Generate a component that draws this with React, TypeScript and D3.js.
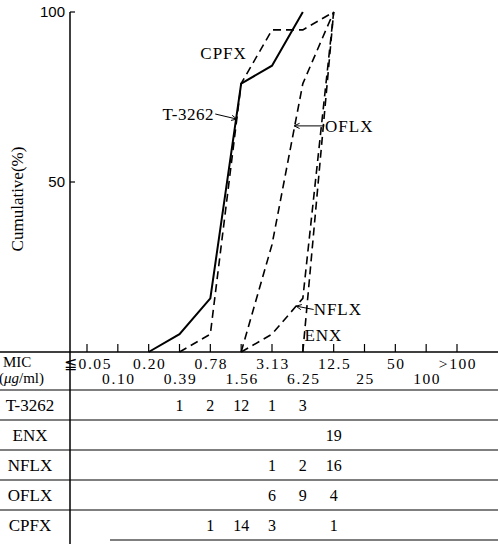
import React from "react";
import * as d3 from "d3";

// MIC categories (µg/ml)
const categories = ["≦0.05", "0.10", "0.20", "0.39", "0.78", "1.56", "3.13", "6.25", "12.5", "25", "50", "100", ">100"];

// Number of strains inhibited at each MIC, per drug
const drugs = ["T-3262", "ENX", "NFLX", "OFLX", "CPFX"];
const t3262Counts = [0, 0, 0, 1, 2, 12, 1, 3, 0, 0, 0, 0, 0];
const enxCounts = [0, 0, 0, 0, 0, 0, 0, 0, 19, 0, 0, 0, 0];
const nflxCounts = [0, 0, 0, 0, 0, 0, 1, 2, 16, 0, 0, 0, 0];
const oflxCounts = [0, 0, 0, 0, 0, 0, 6, 9, 4, 0, 0, 0, 0];
const cpfxCounts = [0, 0, 0, 0, 1, 14, 3, 0, 1, 0, 0, 0, 0];

const yTicks = [50, 100];

const W = 498;
const H = 544;
const axisX = 70;
const baseY = 352;
const topY = 12;
const serif = "'Liberation Serif', 'DejaVu Serif', 'Times New Roman', serif";

const countsByDrug: Record<string, number[]> = {
  "T-3262": t3262Counts,
  ENX: enxCounts,
  NFLX: nflxCounts,
  OFLX: oflxCounts,
  CPFX: cpfxCounts,
};

const x = d3.scaleLinear().domain([0, categories.length - 1]).range([87, 457]);
const y = d3.scaleLinear().domain([0, 100]).range([baseY, topY]);

// Cumulative percentage curve, starting at 0 one step before the first strain
function cumulative(counts: number[]): [number, number][] {
  const total = d3.sum(counts);
  const first = counts.findIndex((c) => c > 0);
  let last = counts.length - 1;
  while (last > 0 && counts[last] === 0) last--;
  const pts: [number, number][] = [];
  let acc = 0;
  for (let i = Math.max(0, first - 1); i <= last; i++) {
    acc += counts[i];
    pts.push([i, (acc / total) * 100]);
  }
  return pts;
}

const line = d3
  .line<[number, number]>()
  .x((d) => x(d[0]))
  .y((d) => y(d[1]));

// Row geometry of the counts table
const headerBottom = 390;
const rowH = 30;

const txt = (size: number, spacing = 0): React.CSSProperties => ({
  fontFamily: serif,
  fontSize: size,
  letterSpacing: spacing,
});

function Arrow({ x1, y1, x2, y2 }: { x1: number; y1: number; x2: number; y2: number }) {
  const a = Math.atan2(y2 - y1, x2 - x1);
  const L = 6;
  const s = 0.45;
  const p1 = [x2 - L * Math.cos(a - s), y2 - L * Math.sin(a - s)];
  const p2 = [x2 - L * Math.cos(a + s), y2 - L * Math.sin(a + s)];
  return (
    <g stroke="#000" strokeWidth={1} fill="none">
      <line x1={x1} y1={y1} x2={x2} y2={y2} />
      <path d={`M${p1[0]},${p1[1]}L${x2},${y2}L${p2[0]},${p2[1]}`} />
    </g>
  );
}

export default function App() {
  const curves = drugs.map((d) => ({ name: d, pts: cumulative(countsByDrug[d]) }));

  return (
    <svg
      width={W}
      height={H}
      viewBox={`0 0 ${W} ${H}`}
      style={{ position: "absolute", left: 0, top: 0, background: "#fff" }}
    >
      <rect width={W} height={H} fill="#fff" />

      {/* y axis */}
      <line x1={axisX} y1={topY} x2={axisX} y2={H} stroke="#000" strokeWidth={1.5} />
      {yTicks.map((t) => (
        <g key={t}>
          <line x1={axisX} x2={axisX + 5} y1={y(t)} y2={y(t)} stroke="#000" strokeWidth={1.2} />
          <text
            x={axisX - 5}
            y={y(t)}
            dy="0.35em"
            textAnchor="end"
            style={{ fontFamily: "'Liberation Sans Narrow', 'Liberation Sans', sans-serif", fontSize: 15 }}
          >
            {t}
          </text>
        </g>
      ))}
      <text transform={`translate(23,${y(45)}) rotate(-90)`} textAnchor="middle" style={txt(17)}>
        Cumulative(%)
      </text>

      {/* x axis and ticks */}
      <line x1={0} x2={W} y1={baseY} y2={baseY} stroke="#000" strokeWidth={1.5} />
      {categories.map((c, i) => (
        <line key={c} x1={x(i)} x2={x(i)} y1={baseY} y2={baseY - 8} stroke="#000" strokeWidth={1.2} />
      ))}
      {categories.map((c, i) => (
        <text key={c} x={x(i) + 1} y={i % 2 === 0 ? 369 : 384} textAnchor="middle" style={txt(15.5, 1.6)}>
          {c}
        </text>
      ))}
      <text x={3} y={367} style={txt(15)}>
        MIC
      </text>
      <text x={-1} y={383} style={txt(15)}>
        (<tspan fontStyle="italic">μg</tspan>/ml)
      </text>

      {/* cumulative curves */}
      {curves.map((c) => (
        <path
          key={c.name}
          d={line(c.pts) || ""}
          fill="none"
          stroke="#000"
          strokeWidth={c.name === "T-3262" ? 2 : 1.6}
          strokeDasharray={c.name === "T-3262" ? undefined : "8,5"}
        />
      ))}

      {/* curve labels */}
      <text x={x(4.43)} y={y(88)} dy="0.35em" textAnchor="middle" style={txt(17, 1)}>
        CPFX
      </text>
      <text x={x(4.12)} y={y(70)} dy="0.35em" textAnchor="end" style={txt(17, 0.5)}>
        T-3262
      </text>
      <Arrow x1={x(4.16)} y1={y(70)} x2={x(4.86)} y2={y(68.5)} />
      <text x={x(7.72)} y={y(66.5)} dy="0.35em" style={txt(17, 1)}>
        OFLX
      </text>
      <Arrow x1={x(7.7)} y1={y(66.5)} x2={x(6.72)} y2={y(66.5)} />
      <text x={x(7.35)} y={y(12.5)} dy="0.35em" style={txt(17, 1)}>
        NFLX
      </text>
      <Arrow x1={x(7.35)} y1={y(12.5)} x2={x(6.78)} y2={y(13.5)} />
      <text x={x(7.05)} y={y(5)} dy="0.35em" style={txt(17, 1)}>
        ENX
      </text>

      {/* counts table */}
      {d3.range(drugs.length + 1).map((r) => (
        <line
          key={r}
          x1={r === drugs.length ? 110 : 0}
          x2={W}
          y1={headerBottom + r * rowH}
          y2={headerBottom + r * rowH}
          stroke="#000"
          strokeWidth={1.2}
        />
      ))}
      {drugs.map((d, r) => {
        const cy = headerBottom + r * rowH + rowH / 2;
        return (
          <g key={d}>
            <text x={30} y={cy} dy="0.35em" textAnchor="middle" style={txt(17)}>
              {d}
            </text>
            {countsByDrug[d].map((v, i) =>
              v > 0 ? (
                <text key={i} x={x(i)} y={cy} dy="0.35em" textAnchor="middle" style={txt(16)}>
                  {v}
                </text>
              ) : null
            )}
          </g>
        );
      })}
    </svg>
  );
}
